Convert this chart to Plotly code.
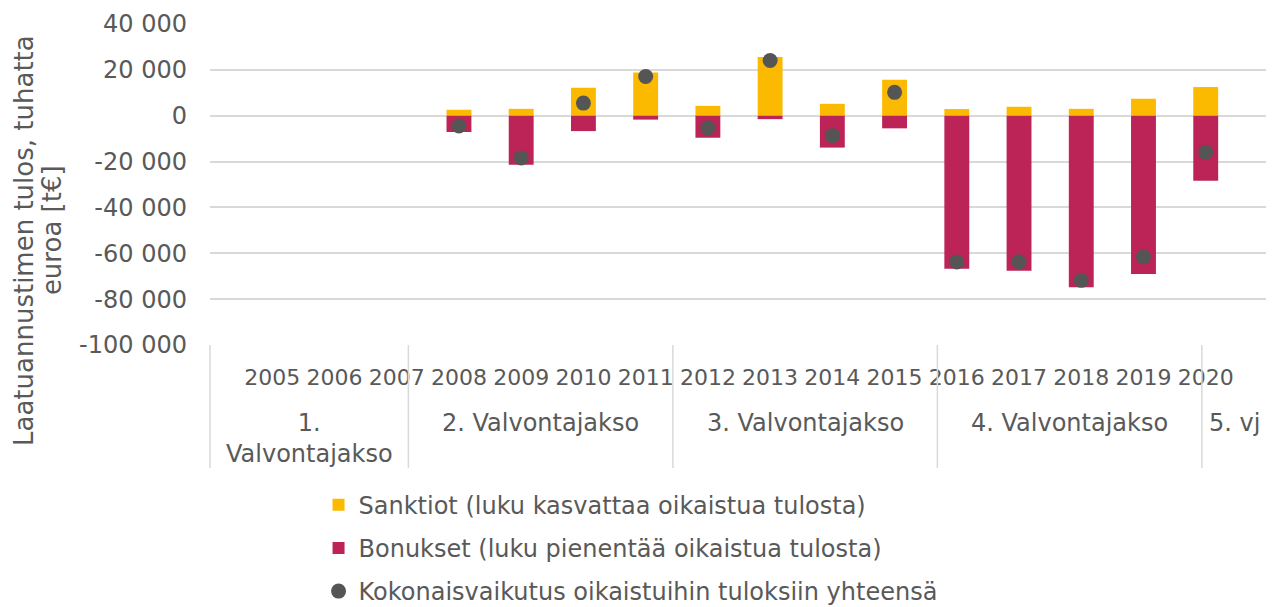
import plotly.graph_objects as go

years = [str(y) for y in range(2005, 2021)]
sanktiot = [None, None, None, 2600, 3000, 12200, 18800, 4300, 25600, 5200, 15700, 2900, 3900, 3000, 7400, 12500]
bonukset = [None, None, None, -7100, -21400, -6700, -1700, -9600, -1500, -13900, -5500, -66700, -67600, -74800, -69000, -28400]
kokonais = [None, None, None, -4500, -18400, 5500, 17100, -5300, 24100, -8700, 10200, -63800, -63700, -71800, -61600, -15900]

groups = ["1.<br>Valvontajakso", "2. Valvontajakso", "3. Valvontajakso", "4. Valvontajakso", "5. vj"]
group_sizes = [3, 4, 4, 4, 1]

ytickvals = [40000, 20000, 0, -20000, -40000, -60000, -80000, -100000]
yticktext = ["40 000", "20 000", "0", "-20 000", "-40 000", "-60 000", "-80 000", "-100 000"]

legend_names = [
    "Sanktiot (luku kasvattaa oikaistua tulosta)",
    "Bonukset (luku pienentää oikaistua tulosta)",
    "Kokonaisvaikutus oikaistuihin tuloksiin yhteensä",
]
ytitle_lines = ["Laatuannustimen tulos, tuhatta", "euroa [t€]"]

TXT = "#595959"
GRID = "#d9d9d9"
FONT = "DejaVu Sans"

fig = go.Figure()
fig.add_trace(go.Bar(x=years, y=sanktiot, name=legend_names[0], marker_color="#FBB900",
                     marker_line_width=0, legendgroup="a"))
fig.add_trace(go.Bar(x=years, y=bonukset, name=legend_names[1], marker_color="#BC2356",
                     marker_line_width=0, legendgroup="b"))
fig.add_trace(go.Scatter(x=years, y=kokonais, name=legend_names[2], mode="markers",
                         marker=dict(color="#555555", size=15), legendgroup="c"))

shapes = []
annotations = []
n = len(years)
cum = 0
bounds = [0]
for s in group_sizes:
    cum += s
    bounds.append(cum)
for b in bounds:
    shapes.append(dict(type="line", xref="x domain", yref="y domain", x0=b / n, x1=b / n,
                       y0=0, y1=-0.383, line=dict(color=GRID, width=1.5)))
for i, g in enumerate(groups):
    xc = (bounds[i] + bounds[i + 1]) / 2 / n
    annotations.append(dict(text=g, xref="x domain", yref="y domain", x=xc, y=-0.1944,
                            xanchor="center", yanchor="top", showarrow=False,
                            font=dict(size=24, color=TXT, family=FONT)))

for txt, xx, yy in [(ytitle_lines[0], -0.1758, 0.324), (ytitle_lines[1], -0.1493, 0.358)]:
    annotations.append(dict(text=txt, textangle=-90, xref="paper", yref="paper", x=xx, y=yy,
                            xanchor="center", yanchor="middle", showarrow=False,
                            font=dict(size=26, color=TXT, family=FONT)))

fig.update_layout(
    width=1266, height=599,
    margin=dict(l=202, r=6, t=16, b=262, autoexpand=False),
    paper_bgcolor="white", plot_bgcolor="white",
    barmode="relative", bargap=0.6,
    font=dict(family=FONT, size=24, color=TXT),
    shapes=shapes, annotations=annotations,
    legend=dict(orientation="v", x=0.1026, y=-0.4287, xanchor="left", yanchor="top",
                traceorder="grouped", tracegroupgap=9, font=dict(size=24, color=TXT, family=FONT),
                itemclick=False),
    showlegend=True,
)
fig.update_xaxes(type="category", showgrid=False, ticks="", showline=False, automargin=False,
                 tickfont=dict(size=22, color=TXT), ticklabelstandoff=17)
fig.update_yaxes(range=[-100000, 40000], tickvals=ytickvals, ticktext=yticktext,
                 showgrid=True, gridcolor=GRID, gridwidth=1.5, zeroline=False, automargin=False,
                 showline=False, ticks="", ticklabelstandoff=22,
                 tickfont=dict(size=24, color=TXT))

fig.write_html("out.html")
